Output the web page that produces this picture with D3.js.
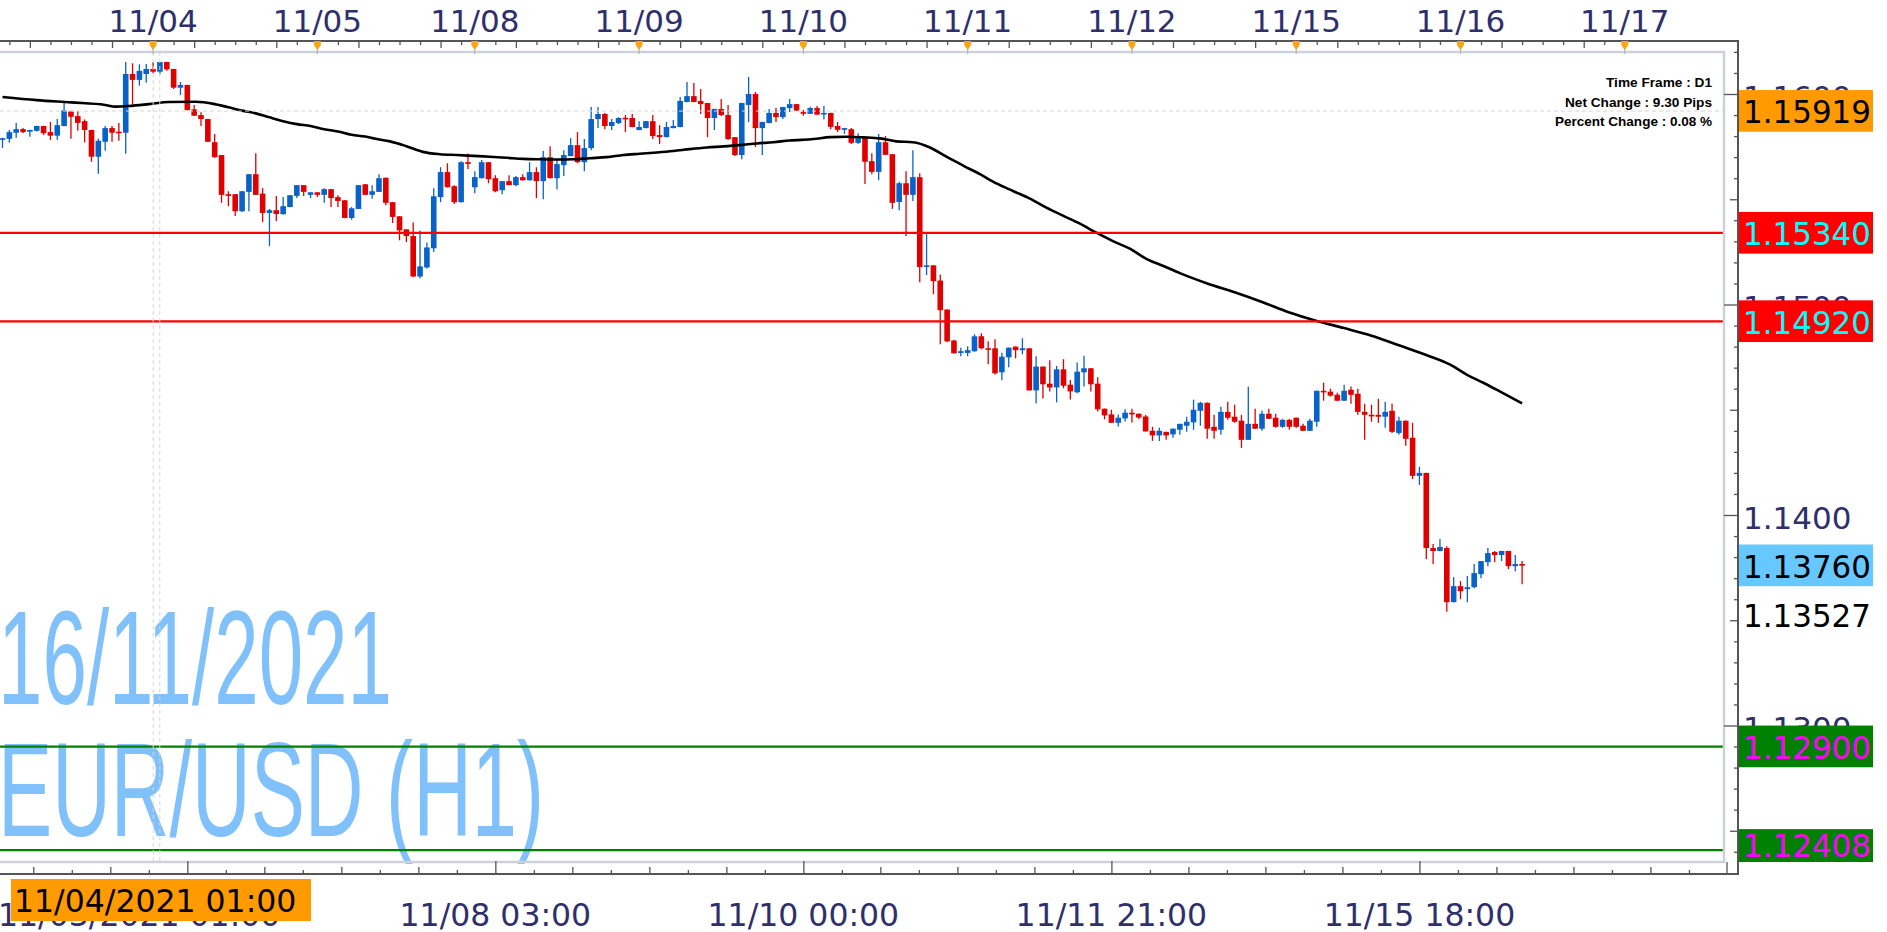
<!DOCTYPE html>
<html><head><meta charset="utf-8">
<script src="https://cdn.jsdelivr.net/npm/d3@7"></script>
<style>body{margin:0;background:#fff;overflow:hidden}</style>
</head><body>
<svg id="c" width="1887" height="932" xmlns="http://www.w3.org/2000/svg"></svg>
<script>
// ---------- DATA (EUR/USD H1) ----------
const opens = [
1.15784,1.15787,1.15816,1.15833,1.15821,1.15825,1.15848,1.15819,1.15802,1.15848,
1.15917,1.15895,1.15871,1.15829,1.15702,1.15773,1.15838,1.15821,1.15816,1.16095,
1.16067,1.16095,1.16119,1.16106,1.16152,1.16119,1.16030,1.16043,1.15927,1.15900,
1.15881,1.15771,1.15710,1.15524,1.15524,1.15443,1.15535,1.15619,1.15527,1.15435,
1.15448,1.15429,1.15463,1.15516,1.15567,1.15521,1.15533,1.15521,1.15548,1.15510,
1.15495,1.15411,1.15454,1.15571,1.15521,1.15535,1.15602,1.15486,1.15419,1.15357,
1.15325,1.15133,1.15176,1.15267,1.15510,1.15629,1.15562,1.15486,1.15676,1.15557,
1.15600,1.15676,1.15600,1.15543,1.15586,1.15567,1.15605,1.15590,1.15629,1.15586,
1.15700,1.15600,1.15662,1.15705,1.15757,1.15676,1.15743,1.15881,1.15905,1.15848,
1.15862,1.15887,1.15886,1.15829,1.15838,1.15871,1.15805,1.15795,1.15838,1.15843,
1.15962,1.15990,1.15967,1.15957,1.15886,1.15929,1.15900,1.15795,1.15710,1.15948,
1.16000,1.15838,1.15862,1.15910,1.15890,1.15933,1.15952,1.15914,1.15906,1.15933,
1.15903,1.15910,1.15848,1.15830,1.15833,1.15768,1.15790,1.15681,1.15630,1.15771,
1.15714,1.15487,1.15576,1.15521,1.15605,1.15179,1.15186,1.15114,1.14976,1.14829,
1.14770,1.14770,1.14778,1.14849,1.14792,1.14792,1.14678,1.14749,1.14800,1.14783,
1.14792,1.14592,1.14705,1.14624,1.14606,1.14692,1.14619,1.14583,1.14678,1.14697,
1.14624,1.14505,1.14478,1.14438,1.14459,1.14486,1.14481,1.14468,1.14400,1.14378,
1.14395,1.14383,1.14405,1.14424,1.14440,1.14495,1.14533,1.14419,1.14405,1.14490,
1.14467,1.14448,1.14357,1.14433,1.14410,1.14481,1.14462,1.14419,1.14452,1.14462,
1.14424,1.14400,1.14443,1.14590,1.14586,1.14571,1.14543,1.14595,1.14576,1.14490,
1.14476,1.14476,1.14467,1.14495,1.14390,1.14448,1.14367,1.14186,1.14200,1.13843,
1.13829,1.13843,1.13586,1.13662,1.13648,1.13657,1.13719,1.13776,1.13824,1.13810,
1.13829,1.13757,1.13767];
const highs = [
1.15792,1.15829,1.15862,1.15838,1.15830,1.15849,1.15849,1.15867,1.15881,1.15959,
1.15921,1.15919,1.15879,1.15830,1.15789,1.15848,1.15848,1.15862,1.16152,1.16146,
1.16141,1.16143,1.16152,1.16153,1.16153,1.16120,1.16057,1.16044,1.15948,1.15913,
1.15882,1.15810,1.15711,1.15538,1.15525,1.15539,1.15620,1.15719,1.15554,1.15454,
1.15516,1.15511,1.15520,1.15568,1.15568,1.15534,1.15534,1.15552,1.15549,1.15519,
1.15496,1.15463,1.15568,1.15572,1.15567,1.15619,1.15603,1.15487,1.15420,1.15358,
1.15390,1.15352,1.15295,1.15552,1.15652,1.15671,1.15567,1.15681,1.15717,1.15633,
1.15686,1.15677,1.15614,1.15587,1.15614,1.15610,1.15619,1.15676,1.15652,1.15729,
1.15752,1.15690,1.15733,1.15790,1.15819,1.15786,1.15938,1.15938,1.15910,1.15881,
1.15890,1.15900,1.15905,1.15871,1.15872,1.15900,1.15852,1.15867,1.15876,1.15986,
1.16057,1.16052,1.16024,1.15958,1.15930,1.15976,1.15948,1.15796,1.15958,1.16081,
1.16010,1.15868,1.15929,1.15933,1.15939,1.15976,1.15953,1.15924,1.15940,1.15943,
1.15943,1.15911,1.15867,1.15839,1.15838,1.15814,1.15791,1.15719,1.15810,1.15800,
1.15715,1.15583,1.15633,1.15733,1.15624,1.15337,1.15187,1.15143,1.14977,1.14832,
1.14794,1.14802,1.14859,1.14863,1.14825,1.14835,1.14771,1.14796,1.14801,1.14840,
1.14793,1.14754,1.14706,1.14735,1.14708,1.14740,1.14641,1.14725,1.14757,1.14698,
1.14654,1.14506,1.14500,1.14478,1.14502,1.14505,1.14482,1.14475,1.14419,1.14414,
1.14396,1.14411,1.14434,1.14467,1.14548,1.14538,1.14534,1.14476,1.14514,1.14538,
1.14524,1.14476,1.14610,1.14505,1.14495,1.14505,1.14481,1.14457,1.14457,1.14463,
1.14433,1.14457,1.14591,1.14629,1.14600,1.14581,1.14619,1.14610,1.14600,1.14529,
1.14524,1.14552,1.14538,1.14529,1.14467,1.14449,1.14438,1.14229,1.14201,1.13862,
1.13886,1.13852,1.13705,1.13686,1.13710,1.13767,1.13782,1.13843,1.13829,1.13830,
1.13830,1.13810,1.13781];
const lows = [
1.15744,1.15768,1.15792,1.15814,1.15797,1.15822,1.15805,1.15781,1.15783,1.15847,
1.15787,1.15825,1.15770,1.15678,1.15621,1.15730,1.15773,1.15778,1.15716,1.15948,
1.16040,1.16054,1.16098,1.16094,1.16111,1.16024,1.15995,1.15922,1.15896,1.15848,
1.15772,1.15697,1.15483,1.15467,1.15421,1.15440,1.15443,1.15520,1.15392,1.15278,
1.15397,1.15428,1.15462,1.15506,1.15516,1.15506,1.15511,1.15483,1.15463,1.15463,
1.15410,1.15403,1.15453,1.15520,1.15502,1.15534,1.15471,1.15387,1.15305,1.15297,
1.15130,1.15125,1.15171,1.15249,1.15486,1.15556,1.15478,1.15485,1.15644,1.15529,
1.15599,1.15576,1.15533,1.15524,1.15566,1.15562,1.15589,1.15589,1.15505,1.15500,
1.15599,1.15548,1.15610,1.15704,1.15671,1.15633,1.15733,1.15838,1.15833,1.15829,
1.15857,1.15819,1.15842,1.15828,1.15837,1.15786,1.15762,1.15794,1.15837,1.15842,
1.15961,1.15961,1.15905,1.15795,1.15829,1.15895,1.15781,1.15705,1.15690,1.15867,
1.15748,1.15710,1.15861,1.15867,1.15881,1.15914,1.15920,1.15897,1.15905,1.15901,
1.15879,1.15832,1.15819,1.15811,1.15763,1.15763,1.15573,1.15619,1.15590,1.15710,
1.15454,1.15448,1.15325,1.15492,1.15106,1.15140,1.15049,1.14811,1.14821,1.14767,
1.14754,1.14754,1.14775,1.14787,1.14716,1.14668,1.14640,1.14702,1.14744,1.14763,
1.14591,1.14530,1.14554,1.14587,1.14535,1.14602,1.14549,1.14578,1.14611,1.14587,
1.14492,1.14454,1.14437,1.14421,1.14444,1.14440,1.14456,1.14396,1.14352,1.14352,
1.14357,1.14367,1.14381,1.14395,1.14405,1.14424,1.14362,1.14362,1.14381,1.14452,
1.14438,1.14319,1.14356,1.14409,1.14400,1.14456,1.14414,1.14414,1.14405,1.14414,
1.14399,1.14399,1.14419,1.14543,1.14562,1.14542,1.14542,1.14529,1.14476,1.14357,
1.14443,1.14438,1.14414,1.14390,1.14381,1.14329,1.14171,1.14143,1.13790,1.13767,
1.13828,1.13540,1.13585,1.13600,1.13586,1.13652,1.13700,1.13757,1.13776,1.13781,
1.13743,1.13733,1.13671];
const closes = [
1.15790,1.15819,1.15833,1.15819,1.15829,1.15848,1.15814,1.15802,1.15852,1.15922,
1.15892,1.15863,1.15829,1.15702,1.15778,1.15838,1.15816,1.15817,1.16095,1.16067,
1.16110,1.16119,1.16106,1.16152,1.16117,1.16030,1.16043,1.15924,1.15897,1.15881,
1.15773,1.15700,1.15521,1.15516,1.15443,1.15538,1.15619,1.15521,1.15435,1.15448,
1.15430,1.15467,1.15519,1.15567,1.15535,1.15533,1.15521,1.15548,1.15506,1.15492,
1.15411,1.15457,1.15567,1.15521,1.15538,1.15600,1.15483,1.15416,1.15352,1.15325,
1.15133,1.15181,1.15271,1.15514,1.15629,1.15557,1.15486,1.15676,1.15668,1.15605,
1.15676,1.15595,1.15538,1.15586,1.15567,1.15605,1.15590,1.15629,1.15586,1.15700,
1.15600,1.15667,1.15710,1.15757,1.15676,1.15743,1.15881,1.15905,1.15848,1.15867,
1.15886,1.15883,1.15843,1.15843,1.15871,1.15800,1.15795,1.15843,1.15848,1.15967,
1.15990,1.15962,1.15952,1.15886,1.15929,1.15900,1.15786,1.15710,1.15957,1.16000,
1.15838,1.15867,1.15910,1.15890,1.15938,1.15952,1.15921,1.15906,1.15933,1.15902,
1.15910,1.15844,1.15830,1.15838,1.15768,1.15790,1.15678,1.15630,1.15771,1.15711,
1.15483,1.15576,1.15521,1.15605,1.15178,1.15186,1.15111,1.14973,1.14825,1.14768,
1.14778,1.14783,1.14849,1.14792,1.14787,1.14673,1.14752,1.14795,1.14783,1.14792,
1.14592,1.14705,1.14621,1.14606,1.14692,1.14614,1.14587,1.14681,1.14697,1.14621,
1.14502,1.14473,1.14438,1.14462,1.14486,1.14478,1.14463,1.14397,1.14378,1.14400,
1.14378,1.14410,1.14433,1.14443,1.14500,1.14533,1.14410,1.14400,1.14490,1.14462,
1.14443,1.14357,1.14433,1.14410,1.14481,1.14457,1.14419,1.14452,1.14419,1.14419,
1.14400,1.14448,1.14590,1.14586,1.14567,1.14543,1.14590,1.14571,1.14490,1.14476,
1.14471,1.14467,1.14490,1.14395,1.14448,1.14362,1.14186,1.14200,1.13843,1.13829,
1.13848,1.13586,1.13662,1.13638,1.13657,1.13724,1.13781,1.13819,1.13810,1.13829,
1.13757,1.13767,1.13760];

// moving average, read at sample bars
const maBars = [0,5,10,15,16.5,18.5,21.4,24.3,28.2,31,33,35,37,39,41,43,45,47,49,51,53,54.5,
  56.6,59,61.4,63.9,66.4,68.8,71.2,73.7,76.1,78.5,81,83.4,85.8,88.3,90.7,93.1,95.6,98,100.4,
  102.9,105.3,107.7,110.2,112.6,115,118.5,120.9,123.3,125.8,128.2,130.6,133,135.5,137.9,140.4,
  142.8,145.2,147.7,150.1,152.5,155,157.4,159.8,162.3,164.7,167.1,169.6,172,176,180,184,188,
  192,196,200,204,208,211.5,213.9,216.4,218.8,222];
const maValues = [1.15986,1.15971,1.15960,1.15948,1.15940,1.15943,1.15952,1.15962,1.15963,1.15952,
  1.15937,1.15921,1.15908,1.15889,1.15871,1.15857,1.15848,1.15833,1.15822,1.15806,1.15798,1.15787,
  1.15775,1.15752,1.15725,1.15714,1.15710,1.15706,1.15702,1.15697,1.15692,1.15690,1.15689,1.15690,
  1.15695,1.15700,1.15710,1.15716,1.15722,1.15729,1.15738,1.15746,1.15751,1.15757,1.15765,1.15771,
  1.15779,1.15786,1.15795,1.15797,1.15794,1.15789,1.15775,1.15771,1.15746,1.15702,1.15659,1.15619,
  1.15575,1.15538,1.15503,1.15460,1.15421,1.15384,1.15341,1.15300,1.15265,1.15217,1.15183,1.15149,
  1.15100,1.15058,1.15012,1.14962,1.14922,1.14888,1.14852,1.14806,1.14760,1.14714,1.14667,1.14627,
  1.14586,1.14530];

const dayLabels = ["11/04","11/05","11/08","11/09","11/10","11/11","11/12","11/15","11/16","11/17"];
const dayBars   = [22,46,69,93,117,141,165,189,213,237];
const timeLabels = ["11/08 03:00","11/10 00:00","11/11 21:00","11/15 18:00"];
const timeBars   = [72,117,162,207];
const priceTicks = [1.13,1.14,1.15,1.16];
const levelValues = [1.15919,1.15340,1.14920,1.13760,1.13527,1.12900,1.12408];
const levelKinds  = ["cross","resist","resist","bid","low","support","support"];
const infoLines = ["Time Frame : D1","Net Change : 9.30 Pips","Percent Change : 0.08 %"];
const watermark = ["16/11/2021","EUR/USD (H1)"];
const firstTimeLabel = "11/03/2021 01:00";
const crossTimeLabel = "11/04/2021 01:00";
const crossBar = 22.5;

// ---------- LAYOUT ----------
const W = 1887, H = 932;
const plotL = 0, plotR = 1724, plotT = 52, plotB = 862;
const axisX = 1738, topAxisY = 41, botAxisY = 874;
const NAVY = "#2e2f6b";
const BLUE = "#0862c8", RED = "#df0000";

const svg = d3.select("#c");
const x = d3.scaleLinear().domain([0, 222]).range([2.5, 1522.1]);
const y = d3.scaleLinear().domain([1.13, 1.16]).range([725.5, 94]);

// watermark
const wm = svg.append("g").attr("font-family","'Liberation Sans', Arial, sans-serif").attr("fill","#80c0fb");
wm.append("text").attr("x",-2).attr("y",704).attr("font-size",134).attr("textLength",394)
  .attr("lengthAdjust","spacingAndGlyphs").text(watermark[0]);
wm.append("text").attr("x",-2).attr("y",836).attr("font-size",134).attr("textLength",546)
  .attr("lengthAdjust","spacingAndGlyphs").text(watermark[1]);

// clip for plot
svg.append("clipPath").attr("id","pc").append("rect")
  .attr("x",plotL).attr("y",plotT).attr("width",plotR-plotL).attr("height",plotB-plotT);
const plot = svg.append("g").attr("clip-path","url(#pc)");

// candles
const bars = d3.range(opens.length).map(i => ({i, o:opens[i], h:highs[i], l:lows[i], c:closes[i]}));
const cg = plot.append("g");
cg.selectAll("line.wick").data(bars).join("line").attr("class","wick")
  .attr("x1",d=>x(d.i)).attr("x2",d=>x(d.i))
  .attr("y1",d=>y(d.h)).attr("y2",d=>y(d.l))
  .attr("stroke",d=>d.c>=d.o?BLUE:RED).attr("stroke-width",1.3);
cg.selectAll("rect.body").data(bars).join("rect").attr("class","body")
  .attr("x",d=>x(d.i)-2.8).attr("width",5.6)
  .attr("y",d=>y(Math.max(d.o,d.c)))
  .attr("height",d=>Math.max(1.6, y(Math.min(d.o,d.c))-y(Math.max(d.o,d.c))))
  .attr("fill",d=>d.c>=d.o?BLUE:RED);

// moving average
const ma = maBars.map((b,k)=>[b,maValues[k]]);
plot.append("path").datum(ma)
  .attr("d", d3.line().x(d=>x(d[0])).y(d=>y(d[1])).curve(d3.curveMonotoneX))
  .attr("fill","none").attr("stroke","#000").attr("stroke-width",2.6);

// level lines
const lineColor = {resist:"#ff0000", support:"#008000"};
levelValues.forEach((v,k)=>{
  const kind = levelKinds[k];
  if (lineColor[kind]) {
    plot.append("line").attr("x1",plotL).attr("x2",plotR).attr("y1",y(v)).attr("y2",y(v))
      .attr("stroke",lineColor[kind]).attr("stroke-width",2.2);
  } else if (kind==="cross") {
    plot.append("line").attr("x1",plotL).attr("x2",plotR).attr("y1",y(v)).attr("y2",y(v))
      .attr("stroke","#d6d6d6").attr("stroke-width",1).attr("stroke-dasharray","4,3");
  }
});
// crosshair verticals
[crossBar-0.48, crossBar+0.48].forEach(b=>{
  plot.append("line").attr("x1",x(b)).attr("x2",x(b)).attr("y1",plotT).attr("y2",plotB)
    .attr("stroke","#d6d6d6").attr("stroke-width",1).attr("stroke-dasharray","4,3");
});

// plot border
svg.append("rect").attr("x",-3).attr("y",plotT).attr("width",plotR+3).attr("height",plotB-plotT)
  .attr("fill","none").attr("stroke","#cdd2da").attr("stroke-width",2.5);

// info text
const info = svg.append("g").attr("font-family","'Liberation Sans', Arial, sans-serif")
  .attr("font-weight","bold").attr("font-size",12.5).attr("fill","#000").attr("text-anchor","end");
const infoW = [106,147,157];
infoLines.forEach((t,k)=>{
  info.append("text").attr("x",1712).attr("y",87+k*19.7).attr("textLength",infoW[k])
    .attr("lengthAdjust","spacingAndGlyphs").text(t);
});

// ---------- TOP AXIS ----------
const dayStarts = [-2].concat(dayBars);
const topMinor = [], topMid = [];
for (let k=0;k<dayStarts.length-1;k++){
  for (let h=3; dayStarts[k]+h < dayStarts[k+1]; h+=3){
    const b = dayStarts[k]+h;
    if (h===6 || h===18) topMid.push(b); else topMinor.push(b);
  }
}
svg.append("line").attr("x1",0).attr("x2",axisX+1).attr("y1",topAxisY).attr("y2",topAxisY)
  .attr("stroke","#555").attr("stroke-width",2);
const tA = svg.append("g").attr("transform",`translate(0,${topAxisY})`);
tA.call(d3.axisTop(x).tickValues(topMinor.filter(b=>x(b)<plotR)).tickSize(-4).tickFormat(""));
tA.call(g=>g.select(".domain").remove());
const tB = svg.append("g").attr("transform",`translate(0,${topAxisY})`);
tB.call(d3.axisTop(x).tickValues(topMid.filter(b=>x(b)<plotR)).tickSize(-7).tickFormat(""));
tB.call(g=>g.select(".domain").remove());
svg.selectAll(".tick line").attr("stroke","#555").attr("stroke-width",1.3);
// day markers
const dm = svg.append("g");
dm.selectAll("line").data(dayBars).join("line")
  .attr("x1",d=>x(d)).attr("x2",d=>x(d)).attr("y1",48).attr("y2",54)
  .attr("stroke","#aab").attr("stroke-width",1);
dm.selectAll("path").data(dayBars).join("path")
  .attr("d",d=>{const c=x(d);return `M${c-3.5},${topAxisY} L${c+3.5},${topAxisY} L${c+3.5},${topAxisY+4} L${c},${topAxisY+9} L${c-3.5},${topAxisY+4} Z`;})
  .attr("fill","#f7a51c");
svg.append("g").selectAll("text").data(dayBars).join("text")
  .attr("x",d=>x(d)).attr("y",32).attr("text-anchor","middle")
  .attr("font-family","'DejaVu Sans', Verdana, sans-serif").attr("font-size",31).attr("fill",NAVY)
  .text((d,k)=>dayLabels[k]);

// ---------- BOTTOM AXIS ----------
svg.append("line").attr("x1",0).attr("x2",axisX+1).attr("y1",botAxisY).attr("y2",botAxisY)
  .attr("stroke","#555").attr("stroke-width",2);
const majorB = [27,72,117,162,207,252];
const minorS = [], minorL = [];
majorB.slice(0,-1).forEach(m=>{ for(let k=1;k<8;k++){ (k%2===0?minorL:minorS).push(m+k*45/8); } });
[-18].forEach(m=>{ for(let k=1;k<8;k++){ (k%2===0?minorL:minorS).push(m+k*45/8); } });
function botAxis(vals, len){
  const g = svg.append("g").attr("transform",`translate(0,${botAxisY})`);
  g.call(d3.axisBottom(x).tickValues(vals.filter(b=>x(b)>0 && x(b)<plotR)).tickSize(-len).tickFormat(""));
  g.call(gg=>gg.select(".domain").remove());
  g.selectAll(".tick line").attr("stroke","#555").attr("stroke-width",1.3);
}
botAxis(minorS,4); botAxis(minorL,7); botAxis(majorB,13);
svg.append("line").attr("x1",1727).attr("x2",1727).attr("y1",862).attr("y2",botAxisY).attr("stroke","#555").attr("stroke-width",1.3);
const bl = svg.append("g").attr("font-family","'DejaVu Sans', Verdana, sans-serif").attr("font-size",31.5);
bl.selectAll("text.tl").data(timeBars).join("text").attr("class","tl")
  .attr("x",d=>x(d)).attr("y",926).attr("text-anchor","middle").attr("fill",NAVY)
  .text((d,k)=>timeLabels[k]);
bl.append("text").attr("x",-2).attr("y",926).attr("fill",NAVY).text(firstTimeLabel);
bl.append("rect").attr("x",11).attr("y",879).attr("width",300).attr("height",42).attr("fill","#ff9a00");
bl.append("text").attr("x",14).attr("y",912).attr("fill","#000").text(crossTimeLabel);

// ---------- RIGHT AXIS ----------
svg.append("line").attr("x1",axisX).attr("x2",axisX).attr("y1",topAxisY-1).attr("y2",botAxisY+1)
  .attr("stroke","#555").attr("stroke-width",2);
const minorP = d3.range(1124,1163).map(v=>v/1000).filter(v=>Math.round(v*1000)%5!==0);
const halfP = [1.125,1.135,1.145,1.155];
function rAxis(vals,len,fmt){
  const g = svg.append("g").attr("transform",`translate(${axisX},0)`);
  g.call(d3.axisRight(y).tickValues(vals).tickSize(-len).tickPadding(5).tickFormat(fmt));
  g.call(gg=>gg.select(".domain").remove());
  g.selectAll(".tick line").attr("stroke","#555").attr("stroke-width",1.3);
  return g;
}
rAxis(minorP,4,""); rAxis(halfP,8,"");
const ra = rAxis(priceTicks,14,d3.format(".4f"));
ra.selectAll("text").attr("font-family","'DejaVu Sans', Verdana, sans-serif").attr("font-size",31)
  .attr("fill",NAVY).attr("dy",null).attr("y",13).attr("text-anchor","start");

// level labels
const boxFill = {cross:"#ff9a00", resist:"#ff0000", bid:"#66c8ff", low:null, support:"#008000"};
const txtFill = {cross:"#000", resist:"#00ffff", bid:"#000", low:"#000", support:"#ff00ff"};
const lbl = svg.append("g").attr("font-family","'DejaVu Sans', Verdana, sans-serif").attr("font-size",31.5);
levelValues.forEach((v,k)=>{
  const kind = levelKinds[k];
  const cy = y(v);
  const top = cy-21, bot = Math.min(cy+20.7, 862);
  if (boxFill[kind]) lbl.append("rect").attr("x",1739).attr("y",top).attr("width",134).attr("height",bot-top).attr("fill",boxFill[kind]);
  lbl.append("text").attr("x",1743).attr("y",Math.min(cy+12.3, bot-5)).attr("fill",txtFill[kind])
    .attr("textLength",128).attr("lengthAdjust","spacingAndGlyphs").text(v.toFixed(5));
});
</script>
</body></html>
